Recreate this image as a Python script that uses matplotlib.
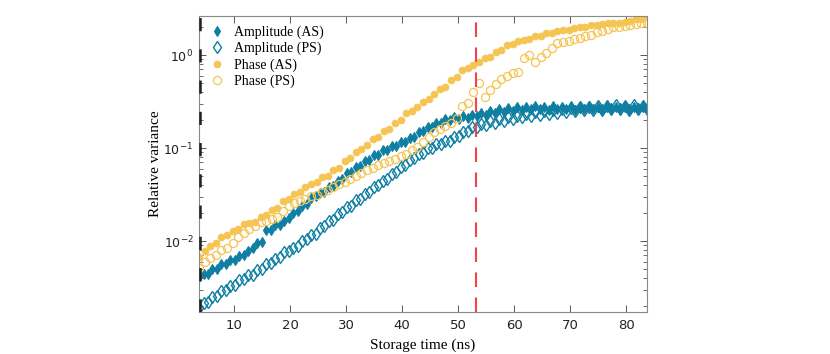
"""
Relative variance of amplitude and phase versus storage time
(AS / PS readout), log scale.
"""

import numpy as np
import matplotlib
matplotlib.use('Agg')
import matplotlib.pyplot as plt
from matplotlib.ticker import LogLocator, NullFormatter

# DATA (log10 of relative variance)
T0 = 3.75            # first storage time, [ns]
AMP_STEP = 0.8       # sampling step for amplitude series, [ns]
PHASE_STEP = 1.0     # sampling step for phase series, [ns]

amp_as_log = [
    -2.39, -2.35, -2.35, -2.30, -2.30, -2.25, -2.25, -2.20, -2.20, -2.16,
    -2.15, -2.11, -2.08, -2.02, -2.01, -1.88, -1.88, -1.83, -1.83, -1.78,
    -1.75, -1.70, -1.68, -1.62, -1.60, -1.54, -1.52, -1.48, -1.47, -1.42,
    -1.41, -1.35, -1.33, -1.27, -1.26, -1.20, -1.19, -1.14, -1.13, -1.08,
    -1.07, -1.02, -1.02, -0.98, -0.98, -0.94, -0.93, -0.89, -0.88, -0.83,
    -0.82, -0.77, -0.77, -0.73, -0.73, -0.69, -0.70, -0.67, -0.69, -0.66,
    -0.68, -0.64, -0.66, -0.62, -0.64, -0.60, -0.62, -0.58, -0.61, -0.57,
    -0.60, -0.56, -0.59, -0.56, -0.58, -0.55, -0.58, -0.56, -0.59, -0.55,
    -0.58, -0.56, -0.58, -0.55, -0.59, -0.56, -0.58, -0.55, -0.58, -0.56,
    -0.59, -0.55, -0.58, -0.56, -0.58, -0.55, -0.59, -0.56, -0.58, -0.55,
    -0.58,
]

amp_ps_log = [
    -2.72, -2.67, -2.66, -2.60, -2.59, -2.54, -2.53, -2.48, -2.47, -2.42,
    -2.41, -2.36, -2.36, -2.31, -2.30, -2.25, -2.24, -2.19, -2.17, -2.12,
    -2.11, -2.07, -2.05, -2.00, -1.98, -1.93, -1.92, -1.86, -1.84, -1.78,
    -1.77, -1.71, -1.69, -1.63, -1.62, -1.56, -1.55, -1.49, -1.47, -1.42,
    -1.40, -1.35, -1.33, -1.28, -1.26, -1.20, -1.18, -1.13, -1.11, -1.06,
    -1.05, -1.00, -1.00, -0.96, -0.96, -0.92, -0.92, -0.88, -0.87, -0.83,
    -0.82, -0.77, -0.77, -0.74, -0.75, -0.71, -0.73, -0.69, -0.71, -0.67,
    -0.69, -0.65, -0.67, -0.63, -0.65, -0.61, -0.64, -0.60, -0.63, -0.59,
    -0.62, -0.58, -0.61, -0.57, -0.60, -0.56, -0.59, -0.56, -0.59, -0.55,
    -0.59, -0.55, -0.58, -0.54, -0.58, -0.55, -0.59, -0.54, -0.58, -0.55,
    -0.58,
]

phase_as_log = [
    -2.17, -2.11, -2.05, -2.02, -1.96, -1.94, -1.89, -1.87, -1.82, -1.81,
    -1.79, -1.74, -1.72, -1.67, -1.64, -1.57, -1.55, -1.49, -1.47, -1.42,
    -1.39, -1.37, -1.31, -1.30, -1.24, -1.21, -1.14, -1.11, -1.04, -1.01,
    -0.97, -0.90, -0.88, -0.82, -0.80, -0.73, -0.70, -0.62, -0.60, -0.56,
    -0.50, -0.47, -0.42, -0.36, -0.34, -0.27, -0.24, -0.16, -0.14, -0.11,
    -0.08, -0.03, -0.02, 0.03, 0.05, 0.11, 0.12, 0.15, 0.16, 0.17,
    0.20, 0.21, 0.24, 0.24, 0.26, 0.27, 0.27, 0.29, 0.30, 0.30,
    0.32, 0.32, 0.33, 0.34, 0.35, 0.35, 0.36, 0.37, 0.39, 0.39,
    0.41,
]

phase_ps_log = [
    -2.29, -2.23, -2.18, -2.15, -2.10, -2.07, -2.02, -1.96, -1.91, -1.87,
    -1.84, -1.80, -1.78, -1.76, -1.74, -1.68, -1.62, -1.59, -1.57, -1.55,
    -1.52, -1.50, -1.47, -1.45, -1.42, -1.39, -1.36, -1.33, -1.30, -1.27,
    -1.24, -1.21, -1.18, -1.16, -1.14, -1.12, -1.09, -1.06, -1.02, -0.99,
    -0.94, -0.88, -0.83, -0.80, -0.76, -0.73, -0.68, -0.55, -0.52, -0.40,
    -0.30, -0.45, -0.38, -0.31, -0.26, -0.22, -0.19, -0.18, -0.03, 0.00,
    -0.07, -0.02, 0.02, 0.08, 0.13, 0.14, 0.15, 0.17, 0.18, 0.20,
    0.22, 0.25, 0.26, 0.28, 0.30, 0.30, 0.31, 0.32, 0.33, 0.34,
    0.35,
]

labels = ['Amplitude (AS)', 'Amplitude (PS)', 'Phase (AS)', 'Phase (PS)']
x_ticks = [10, 20, 30, 40, 50, 60, 70, 80]

T_MARK = 53.2        # red dashed marker, [ns]
T_LEFT = 3.9         # black dashed marker at the left edge, [ns]

# STYLE
BLUE = '#0E7FA2'
YELLOW = '#F6C453'
RED = '#F2444A'
SERIF = ['Liberation Serif', 'DejaVu Serif']

plt.rcParams['lines.scale_dashes'] = False


def _times(values, step):
    return T0 + step * np.arange(len(values))


fig = plt.figure(figsize=(8.3, 3.54), dpi=100)
ax = fig.add_axes([0.2398, 0.1186, 0.5398, 0.8362])

ax.plot(_times(amp_as_log, AMP_STEP), 10.0 ** np.array(amp_as_log),
        linestyle='none', marker='d', markersize=5.5, color=BLUE,
        markeredgewidth=0.8, label=labels[0])
ax.plot(_times(amp_ps_log, AMP_STEP), 10.0 ** np.array(amp_ps_log),
        linestyle='none', marker='d', markersize=6, markerfacecolor='none',
        markeredgecolor=BLUE, markeredgewidth=1.0, label=labels[1])
ax.plot(_times(phase_as_log, PHASE_STEP), 10.0 ** np.array(phase_as_log),
        linestyle='none', marker='o', markersize=5, color=YELLOW,
        markeredgewidth=0.5, label=labels[2])
ax.plot(_times(phase_ps_log, PHASE_STEP), 10.0 ** np.array(phase_ps_log),
        linestyle='none', marker='o', markersize=5.8, markerfacecolor='none',
        markeredgecolor=YELLOW, markeredgewidth=0.9, label=labels[3])

ax.axvline(T_MARK, color=RED, linewidth=1.5, dashes=(10.5, 7.5), zorder=5)
ax.axvline(T_LEFT, color='#222222', linewidth=1.8, dashes=(9.5, 13), zorder=5)

ax.set_yscale('log')
ax.set_xlim(3.75, 83.75)
ax.set_ylim(1.725e-3, 2.63)
ax.set_xticks(x_ticks)
ax.yaxis.set_major_locator(LogLocator(base=10, numticks=10))
ax.yaxis.set_minor_locator(LogLocator(base=10, subs=np.arange(2, 10), numticks=20))
ax.yaxis.set_minor_formatter(NullFormatter())

ax.tick_params(which='both', direction='in', top=True, right=True,
               colors='#555555', labelcolor='#222222', labelsize=9.5)
ax.tick_params(which='major', length=5, width=0.7)
ax.tick_params(which='minor', length=3, width=0.6)
ax.tick_params(axis='x', pad=5)
ax.tick_params(axis='y', labelsize=9, pad=4)
for spine in ax.spines.values():
    spine.set_color('#888888')
    spine.set_linewidth(0.8)

ax.set_xlabel('Storage time (ns)', family=SERIF, fontsize=11, labelpad=5)
ax.set_ylabel('Relative variance', family=SERIF, fontsize=11)
ax.yaxis.set_label_coords(-0.082, 0.5)

ax.legend(loc='upper left', frameon=False, prop={'family': SERIF, 'size': 10},
          handlelength=1.2, handletextpad=0.6, labelspacing=0.2,
          borderaxespad=0.4, borderpad=0.3)

fig.savefig('out.png', dpi=100)
